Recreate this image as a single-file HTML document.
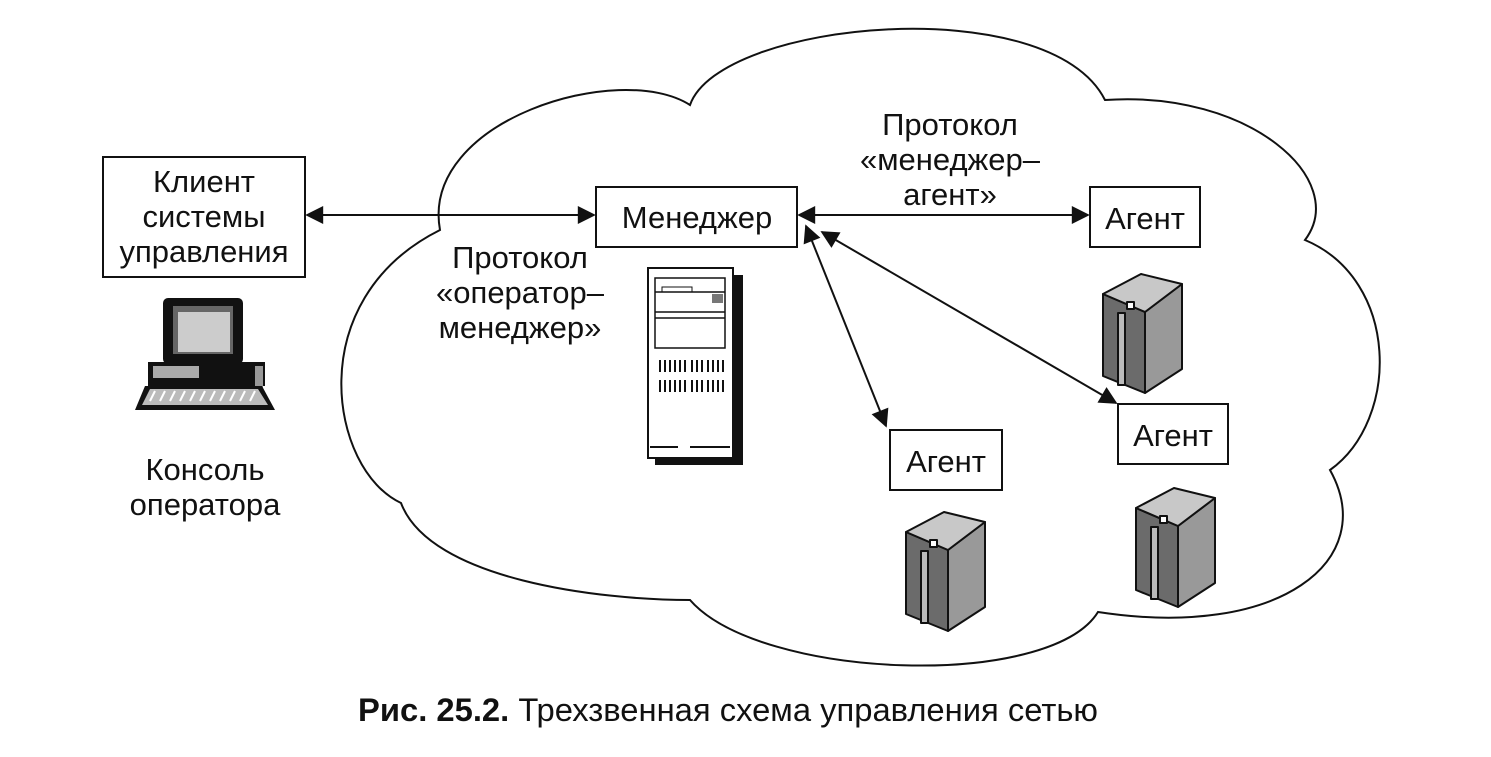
<!DOCTYPE html>
<html><head><meta charset="utf-8"><style>
html,body{margin:0;padding:0;background:#fff;}
svg{display:block;}
text{font-family:"Liberation Sans","DejaVu Sans",sans-serif;fill:#111;}
</style></head><body>
<svg width="1491" height="757" viewBox="0 0 1491 757" xmlns="http://www.w3.org/2000/svg">
<defs>
<marker id="ah" viewBox="0 0 10 10" refX="9" refY="5" markerWidth="20" markerHeight="18" markerUnits="userSpaceOnUse" orient="auto-start-reverse">
<path d="M0,0 L10,5 L0,10 Z" fill="#111"/></marker>
<g id="srv" stroke="#111" stroke-width="2" stroke-linejoin="round">
<polygon points="0,22 42,40 42,121 0,104" fill="#6b6b6b"/>
<polygon points="42,40 79,12 79,97 42,121" fill="#999"/>
<polygon points="0,22 38,2 79,12 42,40" fill="#c8c8c8"/>
<rect x="24" y="30" width="7" height="7" fill="#fff"/>
<rect x="15" y="41" width="7" height="72" fill="#bbb"/>
</g>
</defs>
<path d="M440,230 C420,120 620,60 690,105 C720,20 1050,-10 1105,100 C1250,90 1350,180 1305,240 C1400,280 1400,420 1330,470 C1380,560 1280,640 1098,612 C1050,690 760,680 690,600 C600,600 430,580 401,503 C330,470 300,300 440,230 Z" fill="none" stroke="#111" stroke-width="2"/>
<g fill="#fff" stroke="#111" stroke-width="2">
<rect x="103" y="157" width="202" height="120"/>
<rect x="596" y="187" width="201" height="60"/>
<rect x="1090" y="187" width="110" height="60"/>
<rect x="890" y="430" width="112" height="60"/>
<rect x="1118" y="404" width="110" height="60"/>
</g>
<g font-size="31" text-anchor="middle">
<text x="204" y="192">Клиент</text>
<text x="204" y="227">системы</text>
<text x="204" y="262">управления</text>
<text x="697" y="228">Менеджер</text>
<text x="1145" y="229">Агент</text>
<text x="946" y="472">Агент</text>
<text x="1173" y="446">Агент</text>
<text x="520" y="268">Протокол</text>
<text x="520" y="303">«оператор–</text>
<text x="520" y="338">менеджер»</text>
<text x="950" y="135">Протокол</text>
<text x="950" y="170">«менеджер–</text>
<text x="950" y="205">агент»</text>
<text x="205" y="480">Консоль</text>
<text x="205" y="515">оператора</text>
</g>
<g stroke="#111" stroke-width="2" fill="none" marker-start="url(#ah)" marker-end="url(#ah)">
<line x1="307" y1="215" x2="594" y2="215"/>
<line x1="799" y1="215" x2="1088" y2="215"/>
<line x1="806" y1="226" x2="886" y2="426"/>
<line x1="822" y1="232" x2="1116" y2="403"/>
</g>
<rect x="655" y="275" width="88" height="190" fill="#111"/>
<rect x="648" y="268" width="85" height="190" fill="#fff" stroke="#111" stroke-width="2"/>
<rect x="655" y="278" width="70" height="70" fill="none" stroke="#111" stroke-width="1.5"/>
<line x1="655" y1="292" x2="725" y2="292" stroke="#111" stroke-width="1.5"/>
<line x1="655" y1="312" x2="725" y2="312" stroke="#111" stroke-width="1.5"/>
<line x1="655" y1="318" x2="725" y2="318" stroke="#111" stroke-width="1.5"/>
<rect x="712" y="294" width="11" height="9" fill="#777"/>
<rect x="662" y="287" width="30" height="5" fill="none" stroke="#111" stroke-width="1"/>
<g stroke="#111" stroke-width="2">
<path d="M660,360v12M665,360v12M670,360v12M675,360v12M680,360v12M685,360v12M692,360v12M697,360v12M702,360v12M708,360v12M713,360v12M718,360v12M723,360v12"/>
<path d="M660,380v12M665,380v12M670,380v12M675,380v12M680,380v12M685,380v12M692,380v12M697,380v12M702,380v12M708,380v12M713,380v12M718,380v12M723,380v12"/>
<path d="M650,447h28M690,447h40"/>
</g>
<use href="#srv" transform="translate(1103,272)"/>
<use href="#srv" transform="translate(906,510)"/>
<use href="#srv" transform="translate(1136,486)"/>
<rect x="163" y="298" width="80" height="66" rx="5" fill="#111"/>
<rect x="173" y="306" width="60" height="48" fill="#666"/>
<rect x="178" y="312" width="52" height="40" fill="#ccc"/>
<rect x="148" y="362" width="117" height="24" fill="#111"/>
<rect x="153" y="366" width="46" height="12" fill="#aaa"/>
<rect x="255" y="366" width="8" height="22" fill="#999"/>
<polygon points="145,386 262,386 275,410 135,410" fill="#111"/>
<polygon points="150,389 258,389 268,405 142,405" fill="#bbb"/>
<path d="M150,401 l5,-10 M160,401 l5,-10 M170,401 l5,-10 M180,401 l5,-10 M190,401 l5,-10 M200,401 l5,-10 M210,401 l5,-10 M220,401 l5,-10 M230,401 l5,-10 M240,401 l5,-10 M250,401 l5,-10" stroke="#fff" stroke-width="2"/>
<text x="358" y="721" font-size="32" textLength="740" lengthAdjust="spacingAndGlyphs"><tspan font-weight="bold">Рис. 25.2.</tspan> Трехзвенная схема управления сетью</text>
</svg>
</body></html>
